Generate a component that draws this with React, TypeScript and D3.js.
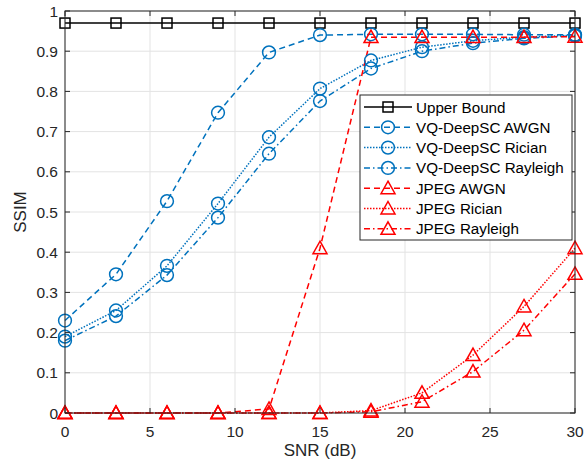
import React from "react";
import * as d3 from "d3";

const snr = [0, 3, 6, 9, 12, 15, 18, 21, 24, 27, 30];
const upperBound = [0.97, 0.97, 0.97, 0.97, 0.97, 0.97, 0.97, 0.97, 0.97, 0.97, 0.97];
const vqAwgn = [0.23, 0.345, 0.527, 0.747, 0.897, 0.94, 0.942, 0.942, 0.942, 0.941, 0.941];
const vqRician = [0.19, 0.255, 0.366, 0.521, 0.686, 0.807, 0.877, 0.91, 0.926, 0.935, 0.94];
const vqRayleigh = [0.18, 0.241, 0.343, 0.486, 0.645, 0.776, 0.857, 0.9, 0.92, 0.932, 0.938];
const jpegAwgn = [0, 0, 0, 0, 0.01, 0.41, 0.935, 0.935, 0.935, 0.935, 0.936];
const jpegRician = [0, 0, 0, 0, 0, 0, 0.006, 0.05, 0.144, 0.265, 0.41];
const jpegRayleigh = [0, 0, 0, 0, 0, 0, 0.003, 0.028, 0.103, 0.206, 0.346];
const xTicks = [0, 5, 10, 15, 20, 25, 30];
const yTicks = [0, 0.1, 0.2, 0.3, 0.4, 0.5, 0.6, 0.7, 0.8, 0.9, 1];

const BLUE = "#0072BD";
const RED = "#FF0000";

type Series = { name: string; values: number[]; color: string; dash: string; marker: "square" | "circle" | "triangle" };

const series: Series[] = [
  { name: "Upper Bound", values: upperBound, color: "#000000", dash: "none", marker: "square" },
  { name: "VQ-DeepSC AWGN", values: vqAwgn, color: BLUE, dash: "6,4", marker: "circle" },
  { name: "VQ-DeepSC Rician", values: vqRician, color: BLUE, dash: "1.5,1.5", marker: "circle" },
  { name: "VQ-DeepSC Rayleigh", values: vqRayleigh, color: BLUE, dash: "6,3,1.5,3", marker: "circle" },
  { name: "JPEG AWGN", values: jpegAwgn, color: RED, dash: "6,4", marker: "triangle" },
  { name: "JPEG Rician", values: jpegRician, color: RED, dash: "1.5,1.5", marker: "triangle" },
  { name: "JPEG Rayleigh", values: jpegRayleigh, color: RED, dash: "6,3,1.5,3", marker: "triangle" },
];

function Marker({ type, x, y, color }: { type: string; x: number; y: number; color: string }) {
  if (type === "square") {
    return <rect x={x - 5} y={y - 5} width={10} height={10} fill="none" stroke={color} strokeWidth={1.5} />;
  }
  if (type === "circle") {
    return <circle cx={x} cy={y} r={6.4} fill="none" stroke={color} strokeWidth={1.5} />;
  }
  const s = 7;
  return (
    <path
      d={`M${x},${y - s} L${x + s},${y + s * 0.78} L${x - s},${y + s * 0.78} Z`}
      fill="none"
      stroke={color}
      strokeWidth={1.5}
    />
  );
}

export default function App() {
  const W = 584, H = 466;
  const L = 65, R = 575, T = 11, B = 413;
  const x = d3.scaleLinear().domain([0, 30]).range([L, R]);
  const y = d3.scaleLinear().domain([0, 1]).range([B, T]);
  const line = d3.line<number>().x((_, i) => x(snr[i])).y((d) => y(d));
  const font = "Liberation Sans, Arial, Helvetica, sans-serif";
  const axisColor = "#262626";

  const legX = 360, legY = 95, legW = 212, legH = 145;
  const rowH = 20.3;

  return (
    <svg width={W} height={H} style={{ position: "absolute", left: 0, top: 0, background: "#fff" }} fontFamily={font}>
      <rect x={0} y={0} width={W} height={H} fill="#fff" />
      {xTicks.map((t) => (
        <line key={"gx" + t} x1={x(t)} x2={x(t)} y1={T} y2={B} stroke="#e3e3e3" strokeWidth={1} />
      ))}
      {yTicks.map((t) => (
        <line key={"gy" + t} x1={L} x2={R} y1={y(t)} y2={y(t)} stroke="#e3e3e3" strokeWidth={1} />
      ))}
      <g>
        {series.map((s) => (
          <path
            key={s.name}
            d={line(s.values) || ""}
            fill="none"
            stroke={s.color}
            strokeWidth={1.5}
            strokeDasharray={s.dash}
          />
        ))}
      </g>
      {series.map((s) =>
        s.values.map((v, i) => (
          <Marker key={s.name + i} type={s.marker} x={x(snr[i])} y={y(v)} color={s.color} />
        ))
      )}
      <rect x={L} y={T} width={R - L} height={B - T} fill="none" stroke={axisColor} strokeWidth={1} />
      {xTicks.map((t) => (
        <g key={"tx" + t}>
          <line x1={x(t)} x2={x(t)} y1={B} y2={B - 5} stroke={axisColor} />
          <line x1={x(t)} x2={x(t)} y1={T} y2={T + 5} stroke={axisColor} />
          <text x={x(t)} y={B + 24} textAnchor="middle" fontSize={15.5} fill={axisColor}>
            {t}
          </text>
        </g>
      ))}
      {yTicks.map((t) => (
        <g key={"ty" + t}>
          <line x1={L} x2={L + 5} y1={y(t)} y2={y(t)} stroke={axisColor} />
          <line x1={R} x2={R - 5} y1={y(t)} y2={y(t)} stroke={axisColor} />
          <text x={L - 7} y={y(t) + 5.5} textAnchor="end" fontSize={15.5} fill={axisColor}>
            {t === 0 || t === 1 ? String(t) : t.toFixed(1)}
          </text>
        </g>
      ))}
      <text x={(L + R) / 2} y={456} textAnchor="middle" fontSize={17} fill={axisColor}>
        SNR (dB)
      </text>
      <text
        transform={`translate(26,${(T + B) / 2}) rotate(-90)`}
        textAnchor="middle"
        fontSize={17}
        fill={axisColor}
      >
        SSIM
      </text>
      <rect x={legX} y={legY} width={legW} height={legH} fill="#fff" stroke={axisColor} strokeWidth={1} />
      {series.map((s, i) => {
        const cy = legY + 12 + i * rowH;
        return (
          <g key={"leg" + s.name}>
            <line x1={legX + 4} x2={legX + 52} y1={cy} y2={cy} stroke={s.color} strokeWidth={1.5} strokeDasharray={s.dash} />
            <Marker type={s.marker} x={legX + 28} y={cy} color={s.color} />
            <text x={legX + 56} y={cy + 5.5} fontSize={15.2} fill="#000">
              {s.name}
            </text>
          </g>
        );
      })}
    </svg>
  );
}
